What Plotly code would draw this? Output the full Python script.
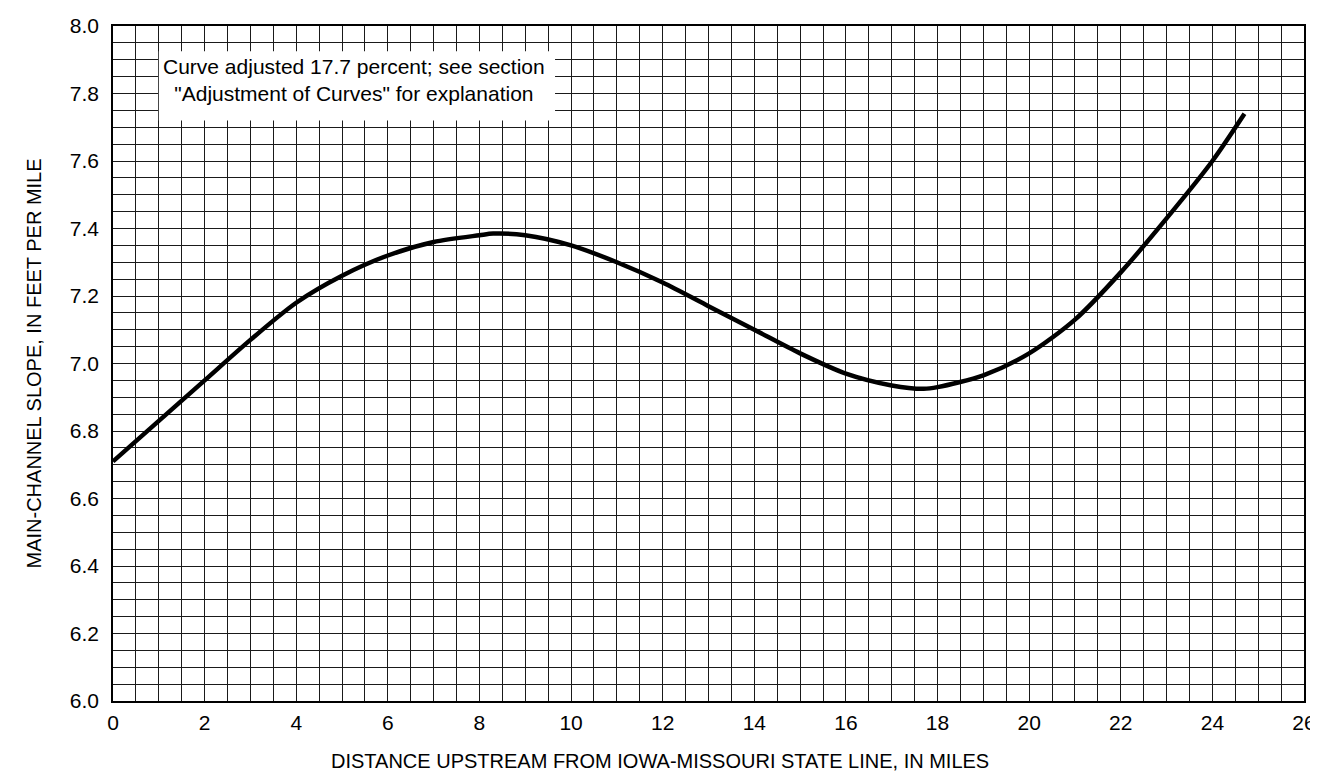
import plotly.graph_objects as go

# Curve
distance_mi = [0, 1, 2, 3, 4, 5, 6, 7, 8, 8.3, 9, 10, 11, 12, 13, 14, 15, 16, 17, 17.7, 18, 19, 20, 21, 22, 23, 24, 24.7]
slope_ft_per_mi = [6.71, 6.83, 6.95, 7.07, 7.18, 7.26, 7.32, 7.36, 7.38, 7.385, 7.38, 7.35, 7.30, 7.24, 7.17, 7.10, 7.03, 6.97, 6.935, 6.925, 6.93, 6.965, 7.03, 7.13, 7.27, 7.43, 7.60, 7.74]

x_ticks = list(range(0, 27, 2))
x_tick_labels = [str(v) for v in x_ticks]
y_ticks = [round(6.0 + 0.2 * i, 1) for i in range(11)]
y_tick_labels = [f"{v:.1f}" for v in y_ticks]

note_lines = ["Curve adjusted 17.7 percent; see section", "\"Adjustment of Curves\" for explanation"]
x_title = "DISTANCE UPSTREAM FROM IOWA-MISSOURI STATE LINE, IN MILES"
y_title = "MAIN-CHANNEL SLOPE, IN FEET PER MILE"

FONT = "Liberation Sans, Arial, Helvetica, sans-serif"
W, H = 1318, 776
L, R, T, B = 105, 22, 18, 83
PW, PH = W - L - R, H - T - B

fig = go.Figure()
fig.add_trace(go.Scatter(
    x=distance_mi, y=slope_ft_per_mi, mode="lines",
    line=dict(color="black", width=4.5, shape="spline", smoothing=0.8),
    showlegend=False, hoverinfo="skip",
))

# white box behind the note
fig.add_shape(type="rect", xref="x", yref="y", x0=1.0, x1=9.65, y0=7.72, y1=7.925,
              fillcolor="white", line=dict(width=0), layer="above")
fig.add_annotation(xref="x", yref="y", x=5.27, y=7.84, xanchor="center", yanchor="middle",
                   text="<br>".join(note_lines), showarrow=False,
                   align="center", font=dict(family=FONT, size=21, color="black"))

# axis titles
fig.add_annotation(xref="paper", yref="paper", x=(652 - L) / PW, y=(H - B - 753) / PH,
                   xanchor="center", yanchor="middle", text=x_title, showarrow=False,
                   font=dict(family=FONT, size=20, color="black"))
fig.add_annotation(xref="paper", yref="paper", x=(25 - L) / PW, y=0.5, textangle=-90,
                   xanchor="center", yanchor="middle", text=y_title, showarrow=False,
                   font=dict(family=FONT, size=20, color="black"))

grid = "#1a1a1a"
fig.update_xaxes(
    range=[0, 26], tickvals=x_ticks, ticktext=x_tick_labels,
    showgrid=True, gridcolor=grid, gridwidth=1,
    minor=dict(dtick=0.5, showgrid=True, gridcolor=grid, gridwidth=1),
    showline=True, linecolor="black", linewidth=1.5, mirror=True, zeroline=False,
    ticks="", tickfont=dict(family=FONT, size=21, color="black"), ticklabelstandoff=2,
)
fig.update_yaxes(
    range=[6.0, 8.0], tickvals=y_ticks, ticktext=y_tick_labels,
    showgrid=True, gridcolor=grid, gridwidth=1,
    minor=dict(dtick=0.05, showgrid=True, gridcolor=grid, gridwidth=1),
    showline=True, linecolor="black", linewidth=1.5, mirror=True, zeroline=False,
    ticks="", tickfont=dict(family=FONT, size=21, color="black"), ticklabelstandoff=8,
)
fig.update_layout(
    width=W, height=H,
    margin=dict(l=L, r=R, t=T, b=B, autoexpand=False),
    paper_bgcolor="white", plot_bgcolor="white",
)
fig.write_html("out.html")
